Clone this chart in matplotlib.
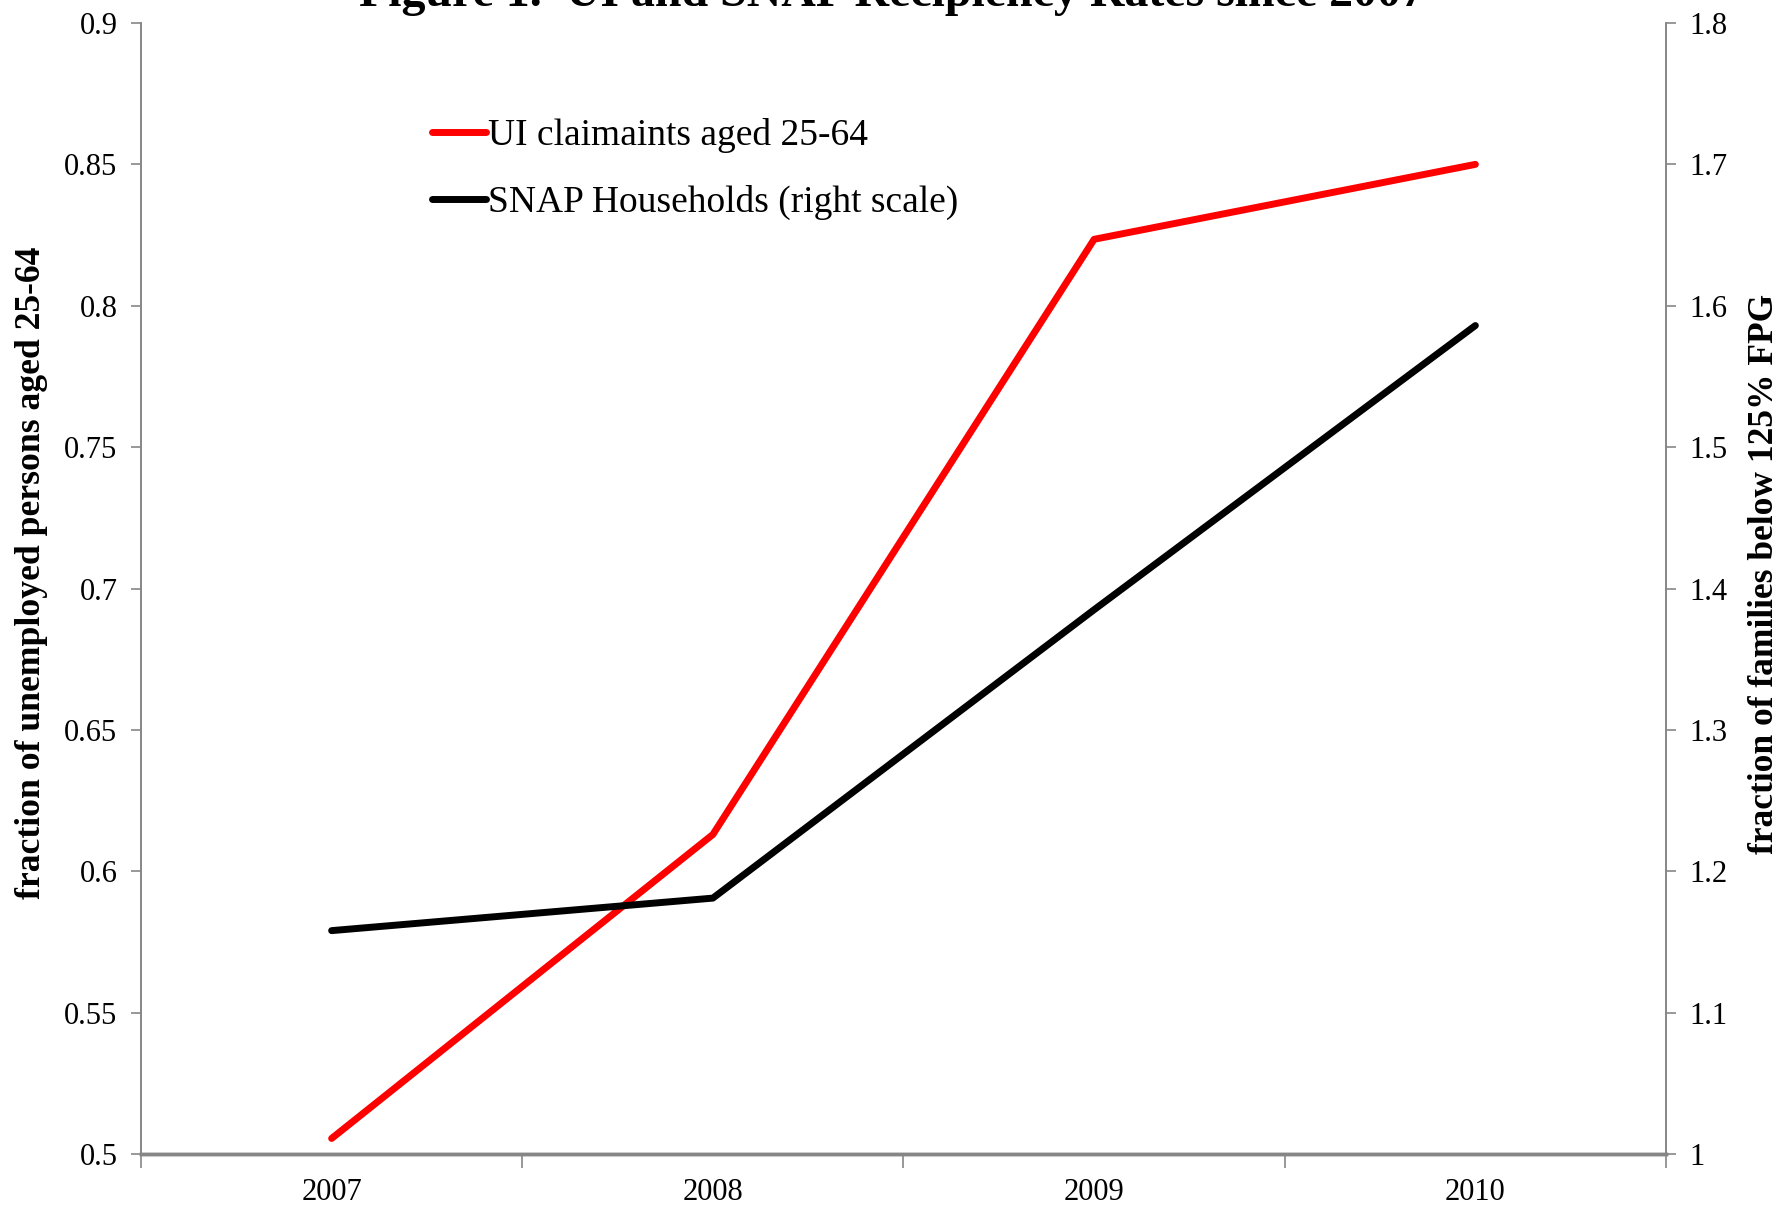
import matplotlib
matplotlib.use("Agg")
import matplotlib.pyplot as plt
from matplotlib.ticker import FixedLocator, NullFormatter

plt.rcParams['font.family'] = ['Liberation Serif', 'DejaVu Serif']

years = ['2007', '2008', '2009', '2010']
ui_claimants = [0.5055, 0.613, 0.8235, 0.850]
snap_households = [1.158, 1.181, 1.385, 1.586]
left_ticks = [0.5, 0.55, 0.6, 0.65, 0.7, 0.75, 0.8, 0.85, 0.9]
left_ticklabels = ['0.5', '0.55', '0.6', '0.65', '0.7', '0.75', '0.8', '0.85', '0.9']
right_ticks = [1.0, 1.1, 1.2, 1.3, 1.4, 1.5, 1.6, 1.7, 1.8]
right_ticklabels = ['1', '1.1', '1.2', '1.3', '1.4', '1.5', '1.6', '1.7', '1.8']

W, H = 1783, 1208
fig = plt.figure(figsize=(W / 100, H / 100), dpi=100)
ax = fig.add_axes([141 / W, 1 - 1154 / H, (1666 - 141) / W, (1154 - 23) / H])
ax2 = ax.twinx()

gray = '#868686'
xpos = [i + 0.5 for i in range(len(years))]

l1, = ax.plot(xpos, ui_claimants, color='#FF0000', lw=5, solid_capstyle='round')
l2, = ax2.plot(xpos, snap_households, color='black', lw=5, solid_capstyle='round')

ax.set_xlim(0, len(years))
ax.set_ylim(0.5, 0.9)
ax2.set_ylim(1.0, 1.8)

ax.set_yticks(left_ticks)
ax.set_yticklabels(left_ticklabels, fontsize=22)
ax2.set_yticks(right_ticks)
ax2.set_yticklabels(right_ticklabels, fontsize=22)

ax.xaxis.set_major_locator(FixedLocator(range(len(years) + 1)))
ax.xaxis.set_major_formatter(NullFormatter())
ax.set_xticks(xpos, minor=True)
ax.set_xticklabels(years, minor=True, fontsize=22)
ax.tick_params(axis='x', which='minor', length=0, pad=17)
ax.tick_params(axis='x', which='major', length=10, width=1.2, color=gray, direction='out')
ax.tick_params(axis='y', length=7, width=1.2, color=gray, direction='out', pad=10)
ax2.tick_params(axis='y', length=7, width=1.2, color=gray, direction='out', pad=10)

for a in (ax, ax2):
    a.spines['top'].set_visible(False)
    for s in ('left', 'right'):
        a.spines[s].set_color(gray)
        a.spines[s].set_linewidth(1.2)
    a.spines['bottom'].set_color(gray)
    a.spines['bottom'].set_linewidth(2.5)

ax.set_ylabel('fraction of unemployed persons aged 25-64', fontsize=25.7,
              fontweight='bold')
ax2.set_ylabel('fraction of families below 125% FPG', fontsize=25.5,
               fontweight='bold', rotation=90)
ax.yaxis.set_label_coords((31.8 - 141) / 1525, (1154 - 573) / 1131)
ax2.yaxis.set_label_coords((1765 - 141) / 1525, (1154 - 574) / 1131)
ax.yaxis.label.set_verticalalignment('center')
ax2.yaxis.label.set_verticalalignment('center')

fig.text(0.5, 1 - 6 / H, 'Figure 1.  UI and SNAP Recipiency Rates since 2007',
         ha='center', va='baseline', fontsize=34.5, fontweight='bold')

leg = ax.legend([l1, l2], ['UI claimaints aged 25-64', 'SNAP Households (right scale)'],
                loc='upper left', bbox_to_anchor=(432 / W, 1 - 118 / H),
                bbox_transform=fig.transFigure, frameon=False, fontsize=27,
                handlelength=1.45, handletextpad=0.05, labelspacing=0.85,
                borderaxespad=0, borderpad=0)

fig.savefig('out.png', dpi=100)
